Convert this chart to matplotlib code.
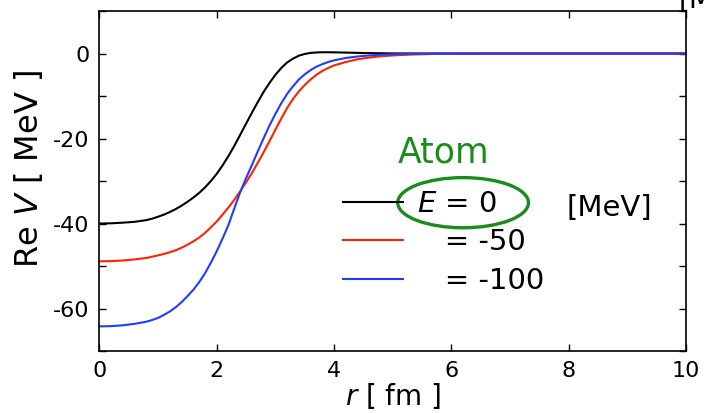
import matplotlib
matplotlib.use("Agg")
import matplotlib.pyplot as plt
from matplotlib.patches import Ellipse
from matplotlib.ticker import MultipleLocator, FuncFormatter

plt.rcParams['font.family'] = ['DejaVu Sans']
plt.rcParams['mathtext.fontset'] = 'dejavusans'
plt.rcParams['axes.unicode_minus'] = False

# real part of the potential for three energies, r in fm, V in MeV
r_e0 = [0, 0.2, 0.4, 0.6, 0.8, 0.9, 1.0, 1.1, 1.2, 1.3, 1.4, 1.5, 1.6, 1.7,
        1.8, 1.9, 2.0, 2.1, 2.2, 2.3, 2.4, 2.5, 2.6, 2.7, 2.8, 2.9, 3.0,
        3.1, 3.2, 3.3, 3.4, 3.5, 3.6, 3.7, 3.8, 3.9, 4.0, 4.2, 4.5, 5.0,
        5.5, 10.0]
v_e0 = [-40.0, -39.95, -39.8, -39.6, -39.2, -38.85, -38.4, -37.9, -37.3,
        -36.6, -35.8, -34.9, -33.9, -32.8, -31.5, -30.0, -28.3, -26.3,
        -24.1, -21.7, -19.1, -16.5, -13.9, -11.4, -9.0, -6.9, -5.0, -3.4,
        -2.1, -1.2, -0.5, -0.1, 0.15, 0.25, 0.3, 0.3, 0.28, 0.22, 0.12,
        0.03, 0.0, 0.0]

r_e50 = [0, 0.2, 0.4, 0.6, 0.8, 0.9, 1.0, 1.1, 1.2, 1.3, 1.4, 1.5, 1.6, 1.7,
         1.8, 1.9, 2.0, 2.1, 2.2, 2.3, 2.4, 2.5, 2.6, 2.7, 2.8, 2.9, 3.0,
         3.1, 3.2, 3.3, 3.4, 3.5, 3.6, 3.7, 3.8, 3.9, 4.0, 4.2, 4.4, 4.6,
         4.8, 5.0, 5.3, 5.7, 6.2, 7.0, 10.0]
v_e50 = [-48.9, -48.85, -48.7, -48.45, -48.1, -47.8, -47.5, -47.15, -46.75,
         -46.3, -45.7, -45.0, -44.2, -43.3, -42.2, -40.9, -39.5, -37.9,
         -36.2, -34.4, -32.4, -30.3, -28.1, -25.7, -23.2, -20.6, -17.9,
         -15.3, -12.8, -10.7, -8.9, -7.4, -6.1, -5.0, -4.1, -3.4, -2.8,
         -2.0, -1.35, -0.95, -0.65, -0.45, -0.25, -0.1, -0.03, 0.0, 0.0]

r_e100 = [0, 0.2, 0.4, 0.6, 0.8, 0.9, 1.0, 1.1, 1.2, 1.3, 1.4, 1.5, 1.6,
          1.7, 1.8, 1.9, 2.0, 2.1, 2.2, 2.3, 2.4, 2.5, 2.6, 2.7, 2.8, 2.9,
          3.0, 3.1, 3.2, 3.3, 3.4, 3.5, 3.6, 3.7, 3.8, 3.9, 4.0, 4.2, 4.4,
          4.6, 4.8, 5.0, 5.3, 5.8, 6.5, 10.0]
v_e100 = [-64.2, -64.15, -63.95, -63.6, -63.1, -62.7, -62.2, -61.5, -60.7,
          -59.7, -58.5, -57.1, -55.6, -53.8, -51.7, -49.2, -46.5, -43.5,
          -40.3, -36.4, -32.6, -29.3, -26.2, -23.0, -19.9, -16.9, -14.2,
          -11.7, -9.5, -7.7, -6.1, -4.9, -3.9, -3.1, -2.5, -2.0, -1.6,
          -1.05, -0.7, -0.45, -0.28, -0.18, -0.08, -0.02, 0.0, 0.0]

labels = ["$E$ = 0", "   = -50", "   = -100"]

fig = plt.figure(figsize=(7.05, 4.13), dpi=100)
ax = fig.add_axes([0.1411, 0.1501, 0.8319, 0.8232])

ax.plot(r_e0, v_e0, color='black', lw=1.5, label=labels[0])
ax.plot(r_e50, v_e50, color='#ff2200', lw=1.5, label=labels[1])
ax.plot(r_e100, v_e100, color='#1f3dff', lw=1.5, label=labels[2])

ax.set_xlim(0, 10)
ax.set_ylim(-70, 10)
ax.xaxis.set_major_locator(MultipleLocator(2))
ax.yaxis.set_major_locator(MultipleLocator(10))
ax.yaxis.set_major_formatter(FuncFormatter(
    lambda v, p: "%d" % v if int(round(v)) % 20 == 0 else ""))
ax.tick_params(direction='in', top=True, right=True, length=5, width=1,
               labelsize=16, pad=7)
for s in ax.spines.values():
    s.set_linewidth(1.2)

ax.set_xlabel("$r$ [ fm ]", fontsize=20, labelpad=0)
ax.set_ylabel("Re $V$ [ MeV ]", fontsize=23)
ax.yaxis.set_label_coords(-0.093, 0.535)

leg = ax.legend(loc='upper left', bbox_to_anchor=(0.415, 0.474), frameon=False,
                fontsize=21, handlelength=2.05, handletextpad=0.5,
                labelspacing=0.36, borderaxespad=0, borderpad=0)

ax.text(7.97, -36.4, "[MeV]", fontsize=21, ha='left', va='center')
ax.text(5.87, -23.3, "Atom", fontsize=25, color='#1a8c1a', ha='center',
        va='center')
ax.add_patch(Ellipse((6.2, -35.1), 2.23, 11.8, fill=False,
                     edgecolor='#1a8c1a', lw=2.4))

fig.text(0.962, 1.0, "[MeV]", fontsize=20, ha='left', va='center')

fig.savefig("out.png", dpi=100)
